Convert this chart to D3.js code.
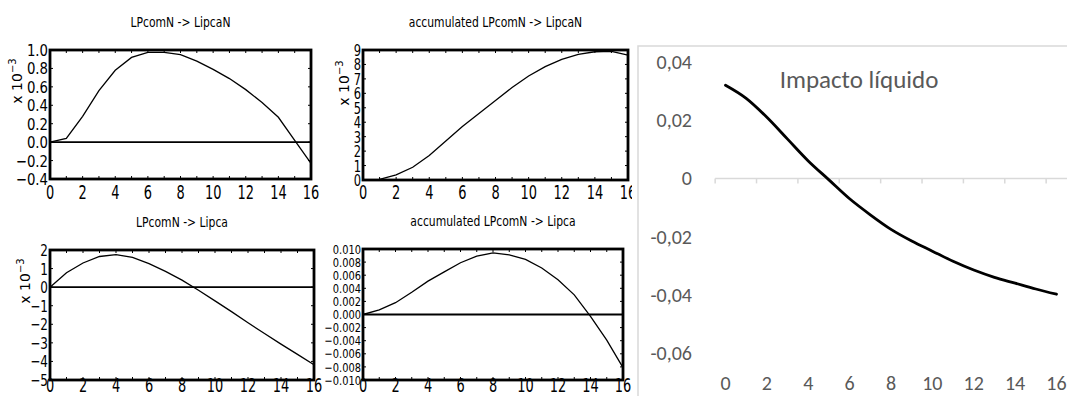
<!DOCTYPE html>
<html>
<head>
<meta charset="utf-8">
<script src="https://cdn.jsdelivr.net/npm/d3@7"></script>
<style>
  body { margin: 0; background: #fff; }
  .rats text { font-family: "DejaVu Sans", sans-serif; fill: #000; }
  .excel text { font-family: Calibri, Carlito, "Open Sans", sans-serif; fill: #595959; }
</style>
</head>
<body>
<svg id="chart" width="1067" height="396"></svg>
<script>
// horizons 0..16
const steps = [0, 1, 2, 3, 4, 5, 6, 7, 8, 9, 10, 11, 12, 13, 14, 15, 16];
const xTickLabels = [0, 2, 4, 6, 8, 10, 12, 14, 16];

// responses (first three panels are in units of 10^-3)
const lipcaN = [0, 0.04, 0.28, 0.56, 0.78, 0.92, 0.975, 0.975, 0.95, 0.88, 0.79, 0.69, 0.57, 0.43, 0.27, 0.02, -0.23];
const accLipcaN = [0, 0.05, 0.35, 0.88, 1.7, 2.7, 3.7, 4.6, 5.5, 6.4, 7.2, 7.85, 8.35, 8.7, 8.88, 8.9, 8.65];
const lipca = [0, 0.78, 1.3, 1.65, 1.75, 1.6, 1.27, 0.85, 0.38, -0.17, -0.74, -1.32, -1.92, -2.5, -3.07, -3.62, -4.18];
const accLipca = [0, 0.0007, 0.0018, 0.0034, 0.0051, 0.0065, 0.0079, 0.0089, 0.0094, 0.0091, 0.0084, 0.0071, 0.0053, 0.003, -0.0003, -0.0039, -0.0081];

const ticksLipcaN = [1.0, 0.8, 0.6, 0.4, 0.2, 0.0, -0.2, -0.4];
const ticksAccLipcaN = [0, 1, 2, 3, 4, 5, 6, 7, 8, 9];
const ticksLipca = [2, 1, 0, -1, -2, -3, -4, -5];
const ticksAccLipca = [0.010, 0.008, 0.006, 0.004, 0.002, 0.000, -0.002, -0.004, -0.006, -0.008, -0.010];

// net impact (right chart)
const impacto = [0.032, 0.0275, 0.021, 0.0135, 0.006, -0.0005, -0.007, -0.0125, -0.0175, -0.0215, -0.025, -0.0285, -0.0315, -0.034, -0.036, -0.038, -0.0398];
const impactoTicks = [0.04, 0.02, 0, -0.02, -0.04, -0.06];

var svg = d3.select("#chart");

// text squeezed the way the old plotting font looks
function narrowText(g, x, y, sx, sy, size, anchor, str) {
    return g.append("text")
        .attr("transform", "translate(" + x + "," + y + ") scale(" + sx + "," + sy + ")")
        .attr("text-anchor", anchor)
        .style("font-size", size + "px")
        .text(str);
}

function drawRats(opts) {
    var g = svg.append("g").attr("class", "rats");
    var x = d3.scaleLinear().domain([0, 16]).range([opts.left, opts.right]);
    var y = d3.scaleLinear().domain(opts.domain).range([opts.bottom, opts.top]);

    narrowText(g, (opts.left + opts.right) / 2, opts.top - 23, 0.8, 1, 13.5, "middle", opts.title);

    // small ticks inside the frame
    for (var s of steps) {
        g.append("line").attr("x1", x(s)).attr("x2", x(s))
            .attr("y1", opts.bottom).attr("y2", opts.bottom - 3)
            .attr("stroke", "#000").attr("stroke-width", 1);
        g.append("line").attr("x1", x(s)).attr("x2", x(s))
            .attr("y1", opts.top).attr("y2", opts.top + 3)
            .attr("stroke", "#000").attr("stroke-width", 1);
    }
    for (var t of opts.ticks) {
        g.append("line").attr("x1", opts.left).attr("x2", opts.left + 3)
            .attr("y1", y(t)).attr("y2", y(t))
            .attr("stroke", "#000").attr("stroke-width", 1);
        g.append("line").attr("x1", opts.right).attr("x2", opts.right - 3)
            .attr("y1", y(t)).attr("y2", y(t))
            .attr("stroke", "#000").attr("stroke-width", 1);
    }

    if (opts.zero) {
        g.append("line")
            .attr("x1", opts.left).attr("x2", opts.right)
            .attr("y1", y(0)).attr("y2", y(0))
            .attr("stroke", "#000").attr("stroke-width", 1.8);
    }

    var line = d3.line()
        .x(function (d, i) { return x(steps[i]); })
        .y(function (d) { return y(d); });
    g.append("path")
        .datum(opts.values)
        .attr("d", line)
        .attr("fill", "none")
        .attr("stroke", "#000")
        .attr("stroke-width", 1.3);

    g.append("rect")
        .attr("x", opts.left).attr("y", opts.top)
        .attr("width", opts.right - opts.left)
        .attr("height", opts.bottom - opts.top)
        .attr("fill", "none")
        .attr("stroke", "#000")
        .attr("stroke-width", 2.8);

    for (var xl of xTickLabels) {
        narrowText(g, x(xl), opts.xLabelY, 0.72, 1.05, 18, "middle", xl);
    }

    for (var yl of opts.ticks) {
        narrowText(g, opts.left - 2, y(yl) + opts.labelShift, opts.labelScale, 1, opts.labelSize, "end",
            opts.fmt(yl).replace("-", "\u2212"));
    }

    if (opts.mult) {
        var mt = g.append("text")
            .attr("transform", "translate(" + opts.mult[0] + "," + opts.mult[1] + ") rotate(-90)")
            .attr("text-anchor", "middle")
            .style("font-size", "14px");
        mt.append("tspan").text("x  10");
        mt.append("tspan").attr("dy", -6).style("font-size", "10px").text("\u22123");
    }
}

drawRats({
    left: 50, right: 311, top: 50, bottom: 179, xLabelY: 199,
    domain: [-0.4, 1.0], ticks: ticksLipcaN, fmt: d3.format(".1f"),
    values: lipcaN, zero: true, title: "LPcomN -> LipcaN",
    labelSize: 16, labelScale: 0.83, labelShift: 6,
    mult: [22, 81]
});
drawRats({
    left: 363, right: 628, top: 50, bottom: 180, xLabelY: 199,
    domain: [0, 9], ticks: ticksAccLipcaN, fmt: d3.format("d"),
    values: accLipcaN, zero: false, title: "accumulated LPcomN -> LipcaN",
    labelSize: 16, labelScale: 0.72, labelShift: 6,
    mult: [349, 83]
});
drawRats({
    left: 50, right: 314, top: 250, bottom: 380, xLabelY: 392,
    domain: [-5, 2], ticks: ticksLipca, fmt: d3.format("d"),
    values: lipca, zero: true, title: "LPcomN -> Lipca",
    labelSize: 16, labelScale: 0.75, labelShift: 6,
    mult: [30, 281]
});
drawRats({
    left: 363, right: 623, top: 249, bottom: 380, xLabelY: 392,
    domain: [-0.010, 0.010], ticks: ticksAccLipca, fmt: d3.format(".3f"),
    values: accLipca, zero: true, title: "accumulated LPcomN -> Lipca",
    labelSize: 12.8, labelScale: 0.77, labelShift: 4.6,
    mult: null
});

// right chart (spreadsheet style)
var ex = svg.append("g").attr("class", "excel");
ex.append("rect")
    .attr("x", 632).attr("y", 0).attr("width", 435).attr("height", 396)
    .attr("fill", "#fff");
ex.append("path")
    .attr("d", "M638,396V46H1067")
    .attr("fill", "none")
    .attr("stroke", "#d9d9d9")
    .attr("stroke-width", 1.5);

var xe = d3.scaleLinear().domain([0, 16]).range([725.5, 1056.5]);
var ye = d3.scaleLinear().domain([-0.06, 0.04]).range([353, 62]);
var halfStep = (xe(1) - xe(0)) / 2;

ex.append("line")
    .attr("x1", xe(0) - halfStep).attr("x2", 1067)
    .attr("y1", ye(0)).attr("y2", ye(0))
    .attr("stroke", "#d9d9d9").attr("stroke-width", 1.5);
ex.selectAll(".tk")
    .data(xTickLabels)
    .enter().append("line")
    .attr("x1", function (d) { return xe(d) - halfStep; })
    .attr("x2", function (d) { return xe(d) - halfStep; })
    .attr("y1", ye(0)).attr("y2", ye(0) + 5)
    .attr("stroke", "#d9d9d9").attr("stroke-width", 1.5);

ex.selectAll(".yl")
    .data(impactoTicks)
    .enter().append("text")
    .attr("x", 692)
    .attr("y", function (d) { return ye(d) + 7; })
    .attr("text-anchor", "end")
    .style("font-size", "20px")
    .text(function (d) { return d3.format(".2f")(d).replace(".", ",").replace("0,00", "0").replace("\u2212", "-"); });

ex.selectAll(".xl")
    .data(xTickLabels)
    .enter().append("text")
    .attr("x", function (d) { return xe(d); })
    .attr("y", 390)
    .attr("text-anchor", "middle")
    .style("font-size", "20px")
    .text(function (d) { return d; });

ex.append("path")
    .datum(impacto)
    .attr("d", d3.line()
        .curve(d3.curveMonotoneX)
        .x(function (d, i) { return xe(steps[i]); })
        .y(function (d) { return ye(d); }))
    .attr("fill", "none")
    .attr("stroke", "#000")
    .attr("stroke-width", 2.8)
    .attr("stroke-linecap", "round");

ex.append("text")
    .attr("x", 859)
    .attr("y", 88)
    .attr("text-anchor", "middle")
    .style("font-size", "25px")
    .text("Impacto líquido");
</script>
</body>
</html>
